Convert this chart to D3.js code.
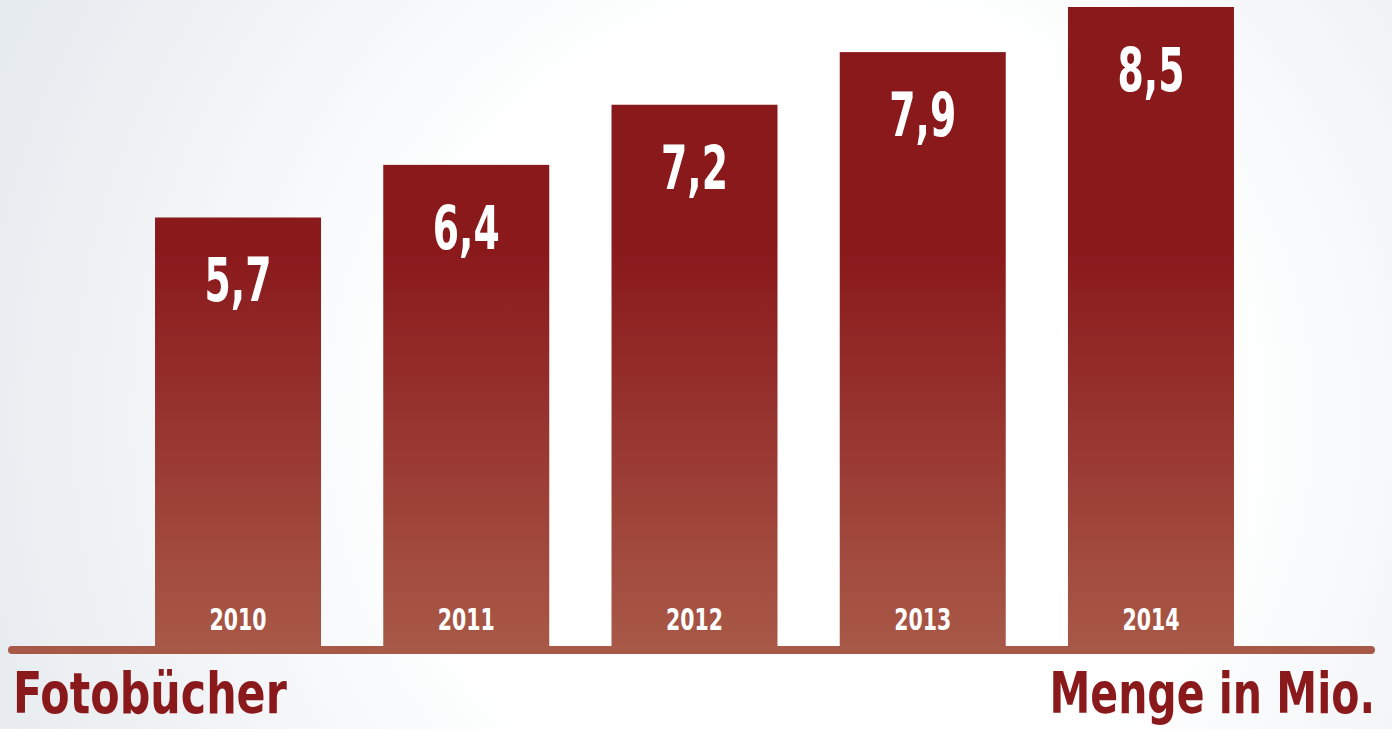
<!DOCTYPE html>
<html>
<head>
<meta charset="utf-8">
<script src="https://cdn.jsdelivr.net/npm/d3@7"></script>
<style>
html,body{margin:0;padding:0;overflow:hidden;}
svg{display:block;}
</style>
</head>
<body>
<script>
const years = ["2010", "2011", "2012", "2013", "2014"];
const values = [5.7, 6.4, 7.2, 7.9, 8.5];
const valueLabels = ["5,7", "6,4", "7,2", "7,9", "8,5"];
const titleLeft = "Fotobücher";
const titleRight = "Menge in Mio.";

const W = 1392, H = 729;
const numFont = "'DejaVu Sans Condensed','Liberation Sans Narrow',sans-serif";

const svg = d3.select("body").append("svg").attr("width", W).attr("height", H);
const defs = svg.append("defs");

const bg = defs.append("radialGradient").attr("id", "bg")
  .attr("gradientUnits", "userSpaceOnUse")
  .attr("cx", 820).attr("cy", 420).attr("r", 900);
bg.append("stop").attr("offset", "0").attr("stop-color", "#ffffff");
bg.append("stop").attr("offset", "0.45").attr("stop-color", "#ffffff");
bg.append("stop").attr("offset", "1").attr("stop-color", "#e6ebef");

const barGrad = defs.append("linearGradient").attr("id", "barGrad")
  .attr("gradientUnits", "userSpaceOnUse")
  .attr("x1", 0).attr("x2", 0).attr("y1", 250).attr("y2", 646);
barGrad.append("stop").attr("offset", "0").attr("stop-color", "#8a191c");
barGrad.append("stop").attr("offset", "1").attr("stop-color", "#a85847");

svg.append("rect").attr("width", W).attr("height", H).attr("fill", "url(#bg)");

const x = d3.scaleBand().domain(years).range([123.9, 1265.1])
  .paddingInner(0.2727).paddingOuter(0.1364);
const y = d3.scaleLinear().domain([0, 8.5]).range([646, 7]);

const data = years.map((yr, i) => ({year: yr, value: values[i], label: valueLabels[i]}));

svg.append("g").selectAll("rect").data(data).join("rect")
  .attr("x", d => x(d.year))
  .attr("y", d => y(d.value))
  .attr("width", x.bandwidth())
  .attr("height", d => y(0) - y(d.value))
  .attr("fill", "url(#barGrad)");

// baseline
svg.append("line")
  .attr("x1", 12).attr("x2", 1371)
  .attr("y1", y(0) + 4).attr("y2", y(0) + 4)
  .attr("stroke", "#a85847").attr("stroke-width", 8).attr("stroke-linecap", "round");

// value labels
svg.append("g").selectAll("text").data(data).join("text")
  .attr("transform", d => `translate(${x(d.year) + x.bandwidth() / 2},${y(d.value) + 84}) scale(0.7,1)`)
  .attr("text-anchor", "middle")
  .attr("fill", "#ffffff")
  .attr("font-family", numFont)
  .attr("font-weight", "bold")
  .attr("font-size", 60)
  .text(d => d.label);

// year labels
svg.append("g").selectAll("text").data(data).join("text")
  .attr("transform", d => `translate(${x(d.year) + x.bandwidth() / 2},630) scale(0.76,1)`)
  .attr("text-anchor", "middle")
  .attr("fill", "#ffffff")
  .attr("font-family", numFont)
  .attr("font-weight", "bold")
  .attr("font-size", 30)
  .text(d => d.year);

svg.append("text")
  .attr("transform", "translate(13,713) scale(0.835,1)")
  .attr("fill", "#8a191c")
  .attr("font-family", numFont)
  .attr("font-weight", "bold")
  .attr("font-size", 57)
  .text(titleLeft);

svg.append("text")
  .attr("transform", "translate(1375,713) scale(0.80,1)")
  .attr("text-anchor", "end")
  .attr("fill", "#8a191c")
  .attr("font-family", numFont)
  .attr("font-weight", "bold")
  .attr("font-size", 57)
  .text(titleRight);
</script>
</body>
</html>
